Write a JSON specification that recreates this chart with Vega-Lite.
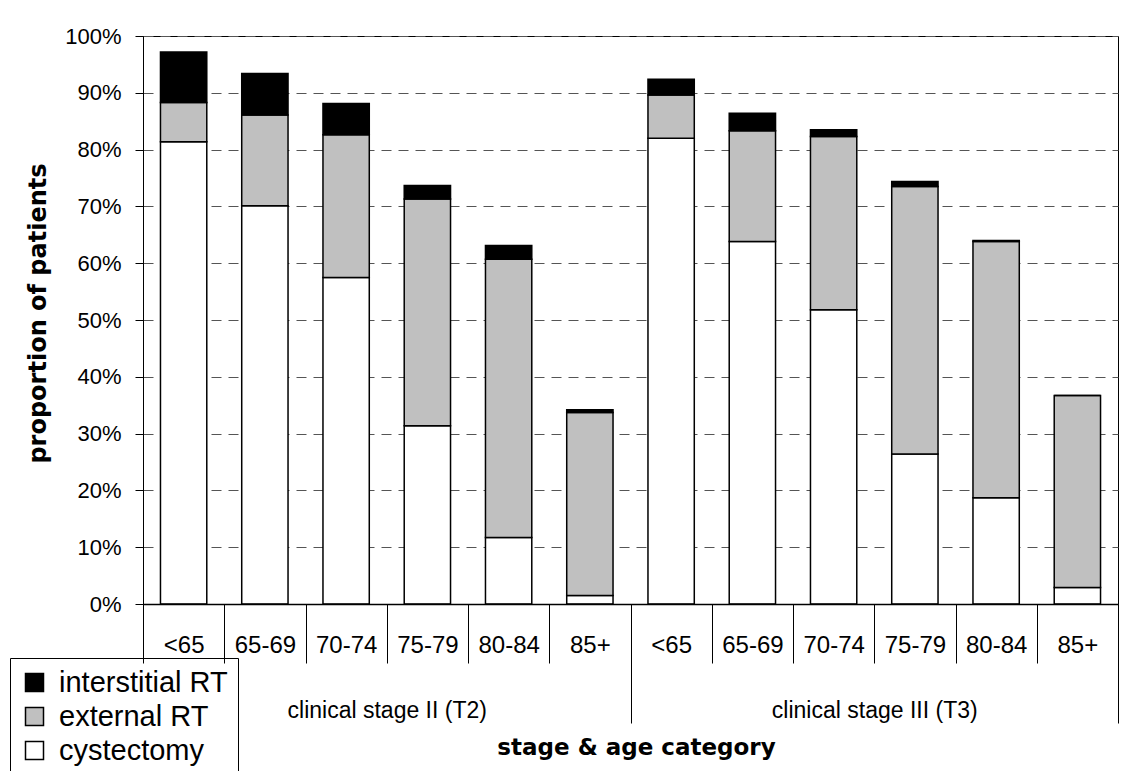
{
  "$schema": "https://vega.github.io/schema/vega-lite/v6.json",
  "width": 975,
  "height": 568,
  "autosize": {"type": "none"},
  "padding": {"left": 143, "top": 36, "right": 13, "bottom": 167},
  "background": "white",
  "config": {
    "font": "Liberation Sans",
    "view": {"stroke": "black", "strokeWidth": 1}
  },
  "datasets": {
    "shares": [
      {"bar": "T2 <65", "stage": "clinical stage II (T2)", "age": "<65", "treatment": "cystectomy", "share": 0.814},
      {"bar": "T2 <65", "stage": "clinical stage II (T2)", "age": "<65", "treatment": "external RT", "share": 0.069},
      {"bar": "T2 <65", "stage": "clinical stage II (T2)", "age": "<65", "treatment": "interstitial RT", "share": 0.089},
      {"bar": "T2 65-69", "stage": "clinical stage II (T2)", "age": "65-69", "treatment": "cystectomy", "share": 0.701},
      {"bar": "T2 65-69", "stage": "clinical stage II (T2)", "age": "65-69", "treatment": "external RT", "share": 0.160},
      {"bar": "T2 65-69", "stage": "clinical stage II (T2)", "age": "65-69", "treatment": "interstitial RT", "share": 0.073},
      {"bar": "T2 70-74", "stage": "clinical stage II (T2)", "age": "70-74", "treatment": "cystectomy", "share": 0.575},
      {"bar": "T2 70-74", "stage": "clinical stage II (T2)", "age": "70-74", "treatment": "external RT", "share": 0.251},
      {"bar": "T2 70-74", "stage": "clinical stage II (T2)", "age": "70-74", "treatment": "interstitial RT", "share": 0.055},
      {"bar": "T2 75-79", "stage": "clinical stage II (T2)", "age": "75-79", "treatment": "cystectomy", "share": 0.314},
      {"bar": "T2 75-79", "stage": "clinical stage II (T2)", "age": "75-79", "treatment": "external RT", "share": 0.399},
      {"bar": "T2 75-79", "stage": "clinical stage II (T2)", "age": "75-79", "treatment": "interstitial RT", "share": 0.024},
      {"bar": "T2 80-84", "stage": "clinical stage II (T2)", "age": "80-84", "treatment": "cystectomy", "share": 0.117},
      {"bar": "T2 80-84", "stage": "clinical stage II (T2)", "age": "80-84", "treatment": "external RT", "share": 0.490},
      {"bar": "T2 80-84", "stage": "clinical stage II (T2)", "age": "80-84", "treatment": "interstitial RT", "share": 0.024},
      {"bar": "T2 85+", "stage": "clinical stage II (T2)", "age": "85+", "treatment": "cystectomy", "share": 0.015},
      {"bar": "T2 85+", "stage": "clinical stage II (T2)", "age": "85+", "treatment": "external RT", "share": 0.322},
      {"bar": "T2 85+", "stage": "clinical stage II (T2)", "age": "85+", "treatment": "interstitial RT", "share": 0.005},
      {"bar": "T3 <65", "stage": "clinical stage III (T3)", "age": "<65", "treatment": "cystectomy", "share": 0.820},
      {"bar": "T3 <65", "stage": "clinical stage III (T3)", "age": "<65", "treatment": "external RT", "share": 0.076},
      {"bar": "T3 <65", "stage": "clinical stage III (T3)", "age": "<65", "treatment": "interstitial RT", "share": 0.028},
      {"bar": "T3 65-69", "stage": "clinical stage III (T3)", "age": "65-69", "treatment": "cystectomy", "share": 0.638},
      {"bar": "T3 65-69", "stage": "clinical stage III (T3)", "age": "65-69", "treatment": "external RT", "share": 0.195},
      {"bar": "T3 65-69", "stage": "clinical stage III (T3)", "age": "65-69", "treatment": "interstitial RT", "share": 0.031},
      {"bar": "T3 70-74", "stage": "clinical stage III (T3)", "age": "70-74", "treatment": "cystectomy", "share": 0.518},
      {"bar": "T3 70-74", "stage": "clinical stage III (T3)", "age": "70-74", "treatment": "external RT", "share": 0.305},
      {"bar": "T3 70-74", "stage": "clinical stage III (T3)", "age": "70-74", "treatment": "interstitial RT", "share": 0.012},
      {"bar": "T3 75-79", "stage": "clinical stage III (T3)", "age": "75-79", "treatment": "cystectomy", "share": 0.264},
      {"bar": "T3 75-79", "stage": "clinical stage III (T3)", "age": "75-79", "treatment": "external RT", "share": 0.471},
      {"bar": "T3 75-79", "stage": "clinical stage III (T3)", "age": "75-79", "treatment": "interstitial RT", "share": 0.009},
      {"bar": "T3 80-84", "stage": "clinical stage III (T3)", "age": "80-84", "treatment": "cystectomy", "share": 0.187},
      {"bar": "T3 80-84", "stage": "clinical stage III (T3)", "age": "80-84", "treatment": "external RT", "share": 0.451},
      {"bar": "T3 80-84", "stage": "clinical stage III (T3)", "age": "80-84", "treatment": "interstitial RT", "share": 0.002},
      {"bar": "T3 85+", "stage": "clinical stage III (T3)", "age": "85+", "treatment": "cystectomy", "share": 0.029},
      {"bar": "T3 85+", "stage": "clinical stage III (T3)", "age": "85+", "treatment": "external RT", "share": 0.338},
      {"bar": "T3 85+", "stage": "clinical stage III (T3)", "age": "85+", "treatment": "interstitial RT", "share": 0.0}
    ]
  },
  "data": {"name": "shares"},
  "layer": [
    {
      "mark": {"type": "bar", "stroke": "black", "strokeWidth": 1.5, "width": {"band": 0.57}},
      "encoding": {
        "x": {
          "field": "bar", "type": "nominal", "sort": null,
          "scale": {"paddingInner": 0, "paddingOuter": 0},
          "axis": {
            "title": null, "orient": "bottom", "tickBand": "extent", "tickSize": 59,
            "tickColor": "black", "tickWidth": 1, "domainColor": "black", "domainWidth": 1.5,
            "labelExpr": "split(datum.label, ' ')[1]", "labelAngle": 0, "labelBaseline": "middle",
            "labelPadding": -18, "labelFontSize": 24, "labelColor": "black", "labelOverlap": false,
            "grid": false, "zindex": 1
          }
        },
        "y": {
          "field": "share", "type": "quantitative", "stack": "zero",
          "scale": {"domain": [0, 1], "nice": false},
          "axis": {
            "title": "proportion of patients",
            "values": [0, 0.1, 0.2, 0.3, 0.4, 0.5, 0.6, 0.7, 0.8, 0.9, 1],
            "format": ".0%", "grid": true, "gridColor": "#555555", "gridDash": [10, 7], "gridWidth": 1,
            "domainColor": "black", "tickColor": "black", "tickSize": 8,
            "labelFontSize": 22, "labelColor": "black", "labelPadding": 14,
            "titleFont": "DejaVu Sans", "titleFontSize": 24, "titleFontWeight": "bold", "titleColor": "black",
            "titleX": -105, "titleY": 277, "titleBaseline": "middle", "titleAlign": "center", "titleAngle": -90, "titleAnchor": null
          }
        },
        "color": {
          "field": "treatment", "type": "nominal",
          "scale": {"domain": ["interstitial RT", "external RT", "cystectomy"], "range": ["#000000", "#c0c0c0", "#ffffff"]},
          "legend": {
            "title": null, "orient": "none", "legendX": -133, "legendY": 622,
            "fillColor": "white", "strokeColor": "black", "padding": 10,
            "symbolType": "square", "symbolSize": 324, "symbolStrokeColor": "black", "symbolStrokeWidth": 1.5,
            "labelFontSize": 29, "labelColor": "black", "labelOffset": 10, "rowPadding": 4, "labelLimit": 400
          }
        },
        "order": {"field": "treatment", "sort": "ascending"}
      }
    },
    {
      "mark": {"type": "rule", "opacity": 0},
      "encoding": {
        "x": {
          "field": "stage", "type": "nominal", "sort": null,
          "scale": {"paddingInner": 0, "paddingOuter": 0},
          "axis": {
            "title": "stage & age category", "orient": "bottom", "tickBand": "extent", "tickSize": 119,
            "tickColor": "black", "tickWidth": 1, "domain": false,
            "labelAngle": 0, "labelBaseline": "middle", "labelPadding": -13, "labelFontSize": 23,
            "labelLimit": 500, "labelColor": "black", "labelOverlap": false, "grid": false,
            "titleFont": "DejaVu Sans", "titleFontWeight": "bold", "titleFontSize": 23, "titleColor": "black",
            "titleX": 493, "titleY": 143, "titleBaseline": "middle", "titleAlign": "center", "titleAnchor": null
          }
        }
      }
    }
  ],
  "resolve": {"scale": {"x": "independent"}, "axis": {"x": "independent"}}
}
